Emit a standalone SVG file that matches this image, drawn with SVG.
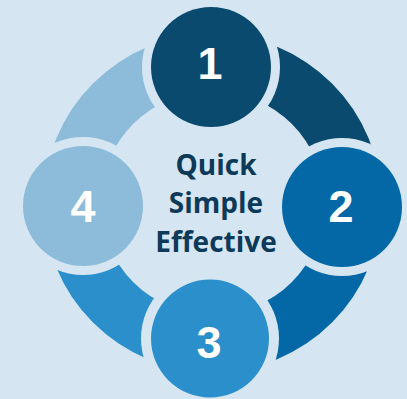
<svg xmlns="http://www.w3.org/2000/svg" width="407" height="399" viewBox="0 0 407 399">
  <style>
    .gap { fill: #d5e6f2; }
    .num { font-family: "Liberation Sans", Arial, sans-serif; font-weight: 700; font-size: 45px; fill: #ffffff; text-anchor: middle; }
    .ctr { font-family: "Open Sans", "Noto Sans", sans-serif; font-weight: 700; font-size: 28px; fill: #0d3a58; text-anchor: middle; }
  </style>
  <rect width="407" height="399" fill="#d5e6f2"/>
  <g id="connectors">
    <path d="M212.5 34 A169 169 0 0 1 381.5 203 L324.5 203 A112 112 0 0 0 212.5 91 Z" fill="#0a4a6e"/>
    <path d="M381.5 203 A169 169 0 0 1 212.5 372 L212.5 315 A112 112 0 0 0 324.5 203 Z" fill="#0468a7"/>
    <path d="M212.5 372 A169 169 0 0 1 43.5 203 L100.5 203 A112 112 0 0 0 212.5 315 Z" fill="#2b8fcb"/>
    <path d="M43.5 203 A169 169 0 0 1 212.5 34 L212.5 91 A112 112 0 0 0 100.5 203 Z" fill="#8cbcd9"/>
  </g>
  <g id="node1">
    <circle class="gap" cx="211" cy="67" r="69"/>
    <circle cx="211" cy="67" r="60" fill="#0a4a6e"/>
    <text class="num" x="210" y="79">1</text>
  </g>
  <g id="node2">
    <circle class="gap" cx="342" cy="207" r="69"/>
    <circle cx="342" cy="207" r="60" fill="#0468a7"/>
    <text class="num" x="341" y="222">2</text>
  </g>
  <g id="node3">
    <circle class="gap" cx="210" cy="338.5" r="69"/>
    <circle cx="210" cy="338.5" r="59" fill="#2b8fcb"/>
    <text class="num" x="209" y="358">3</text>
  </g>
  <g id="node4">
    <circle class="gap" cx="83" cy="206" r="69"/>
    <circle cx="83" cy="206" r="60" fill="#8cbcd9"/>
    <text class="num" x="83" y="222">4</text>
  </g>
  <g id="center">
    <text class="ctr" x="216" y="175">Quick</text>
    <text class="ctr" x="216" y="213">Simple</text>
    <text class="ctr" x="216" y="252">Effective</text>
  </g>
</svg>
